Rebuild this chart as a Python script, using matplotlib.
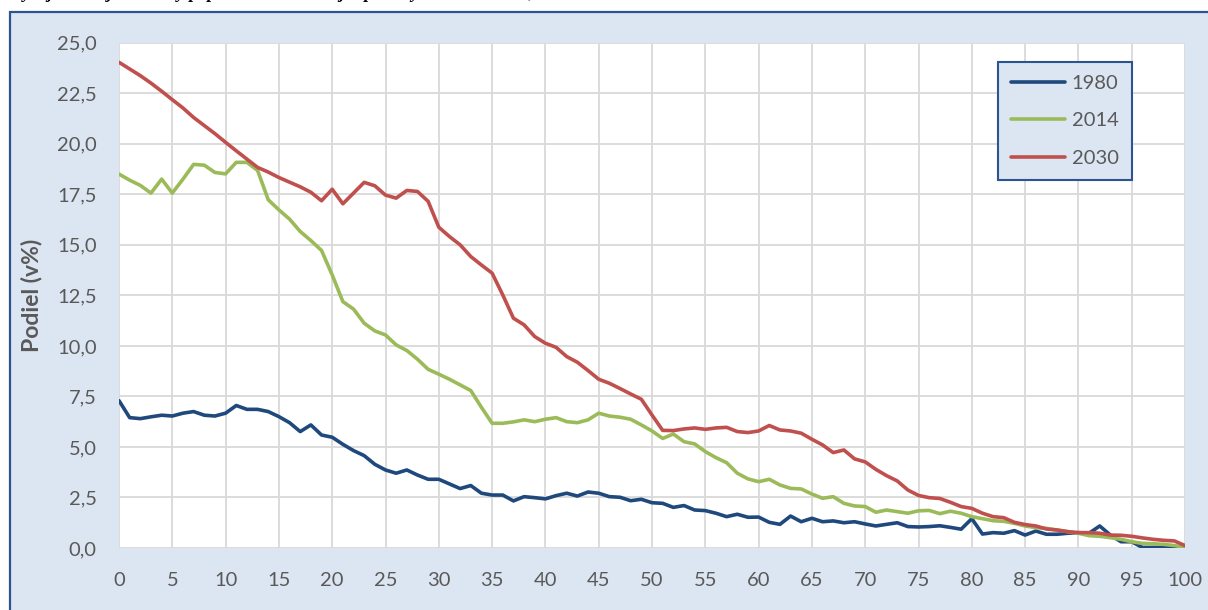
import numpy as np
import matplotlib.pyplot as plt
from matplotlib.patches import Rectangle
from matplotlib.ticker import FuncFormatter

# vek 0..100
vek = list(range(0, 101))

podiel_1980 = [7.29, 6.45, 6.40, 6.49, 6.57, 6.53, 6.67, 6.75, 6.57, 6.53,
               6.67, 7.05, 6.86, 6.86, 6.75, 6.50, 6.20, 5.76, 6.09, 5.59,
               5.48, 5.13, 4.82, 4.57, 4.14, 3.86, 3.70, 3.86, 3.61, 3.40,
               3.40, 3.17, 2.94, 3.09, 2.71, 2.62, 2.62, 2.33, 2.54, 2.49,
               2.43, 2.59, 2.71, 2.57, 2.77, 2.71, 2.54, 2.51, 2.34, 2.41,
               2.24, 2.21, 2.01, 2.10, 1.88, 1.85, 1.72, 1.55, 1.67, 1.52,
               1.53, 1.27, 1.17, 1.58, 1.30, 1.47, 1.30, 1.34, 1.25, 1.30,
               1.19, 1.09, 1.17, 1.25, 1.06, 1.04, 1.06, 1.10, 1.02, 0.93,
               1.45, 0.69, 0.76, 0.73, 0.86, 0.64, 0.84, 0.68, 0.68, 0.73,
               0.76, 0.73, 1.09, 0.64, 0.31, 0.31, 0.03, 0.03, 0.03, 0.03,
               0.03]

podiel_2014 = [18.50, 18.20, 17.94, 17.56, 18.25, 17.56, 18.25, 18.98, 18.94, 18.58,
               18.51, 19.08, 19.08, 18.68, 17.23, 16.73, 16.27, 15.66, 15.21, 14.72,
               13.51, 12.19, 11.82, 11.12, 10.74, 10.54, 10.05, 9.77, 9.34, 8.84,
               8.60, 8.35, 8.07, 7.79, 6.96, 6.17, 6.17, 6.24, 6.34, 6.25,
               6.37, 6.45, 6.25, 6.20, 6.34, 6.67, 6.53, 6.47, 6.37, 6.09,
               5.79, 5.42, 5.64, 5.26, 5.15, 4.77, 4.47, 4.22, 3.70, 3.42,
               3.28, 3.40, 3.12, 2.95, 2.92, 2.67, 2.46, 2.54, 2.21, 2.08,
               2.05, 1.77, 1.88, 1.80, 1.72, 1.84, 1.86, 1.70, 1.82, 1.72,
               1.55, 1.45, 1.35, 1.32, 1.22, 1.09, 1.01, 0.97, 0.89, 0.81,
               0.73, 0.61, 0.58, 0.51, 0.43, 0.31, 0.23, 0.21, 0.18, 0.12,
               0.03]

podiel_2030 = [24.03, 23.70, 23.37, 23.00, 22.60, 22.18, 21.77, 21.30, 20.90, 20.50,
               20.07, 19.65, 19.24, 18.83, 18.60, 18.33, 18.10, 17.87, 17.60, 17.18,
               17.75, 17.03, 17.56, 18.09, 17.92, 17.46, 17.31, 17.69, 17.64, 17.15,
               15.87, 15.41, 15.00, 14.42, 14.00, 13.60, 12.52, 11.37, 11.04, 10.46,
               10.13, 9.93, 9.47, 9.19, 8.78, 8.35, 8.15, 7.89, 7.62, 7.36,
               6.58, 5.82, 5.81, 5.89, 5.94, 5.87, 5.94, 5.97, 5.76, 5.71,
               5.79, 6.06, 5.84, 5.79, 5.68, 5.38, 5.10, 4.72, 4.85, 4.41,
               4.26, 3.89, 3.58, 3.32, 2.87, 2.60, 2.49, 2.45, 2.26, 2.05,
               1.96, 1.72, 1.55, 1.50, 1.27, 1.16, 1.09, 0.94, 0.89, 0.81,
               0.76, 0.76, 0.73, 0.64, 0.63, 0.58, 0.50, 0.43, 0.38, 0.35,
               0.12]

roky = ['1980', '2014', '2030']
farby = ['#1F497D', '#9BBB59', '#C0504D']

W, H = 1208, 610
fig = plt.figure(figsize=(W / 100, H / 100), dpi=100)
fig.patch.set_facecolor('white')

# pozadie grafu (svetlomodry ram), pod osami
fig.add_artist(Rectangle((10 / W, -0.05), 1.1, (H - 12) / H + 0.05,
                         transform=fig.transFigure, facecolor='#DCE6F2',
                         edgecolor='#2C5491', linewidth=1.6, zorder=-5))

# odrezany nadpis hore (vidno len spodky pismen)
fig.text(-0.035, 1 + 2 / H, 'Graf 3 Vývoj vekovej štruktúry populácie Slovenskej republiky v rokoch 1980, 2014 a 2030',
         family='Liberation Serif', weight='bold', style='italic', fontsize=13,
         va='baseline', ha='left')

ax = fig.add_axes([119 / W, 62 / H, (1185 - 119) / W, (548 - 42.7) / H])
ax.set_facecolor('white')

for rok, data, farba in zip(roky, [podiel_1980, podiel_2014, podiel_2030], farby):
    ax.plot(vek, data, color=farba, linewidth=2.6, label=rok,
            solid_capstyle='round', solid_joinstyle='round', zorder=3)

ax.set_xlim(0, 100)
ax.set_ylim(0, 25)
ax.set_xticks(np.arange(0, 101, 5))
ax.set_yticks(np.arange(0, 25.01, 2.5))
ax.yaxis.set_major_formatter(FuncFormatter(lambda v, p: f'{v:.1f}'.replace('.', ',')))
ax.grid(True, color='#D9D9D9', linewidth=1.3)
ax.set_axisbelow(True)
for s in ax.spines.values():
    s.set_visible(False)
ax.tick_params(axis='both', length=0, labelcolor='#595959', labelsize=14.5)
ax.tick_params(axis='x', pad=17)
ax.tick_params(axis='y', pad=16)
for lab in ax.get_xticklabels() + ax.get_yticklabels():
    lab.set_family('Lato')

fig.text(32 / W, 1 - 295 / H, 'Podiel (v%)', rotation=90, ha='center', va='center',
         family='Lato', weight='bold', fontsize=16.5, color='#595959')

leg = ax.legend(loc='upper left', bbox_to_anchor=((998 - 119) / (1185 - 119), 1 - (62 - 42.7) / (548 - 42.7)),
                frameon=True, fancybox=False, prop={'family': 'Lato', 'size': 14.5},
                handlelength=2.7, handletextpad=0.3, labelspacing=1.0,
                borderpad=0.65, borderaxespad=0)
leg.get_frame().set_facecolor('#DCE6F2')
leg.get_frame().set_edgecolor('#2C5491')
leg.get_frame().set_linewidth(1.5)
leg.get_frame().set_alpha(1)
for t in leg.get_texts():
    t.set_color('#595959')

fig.savefig('out.png', dpi=100)
